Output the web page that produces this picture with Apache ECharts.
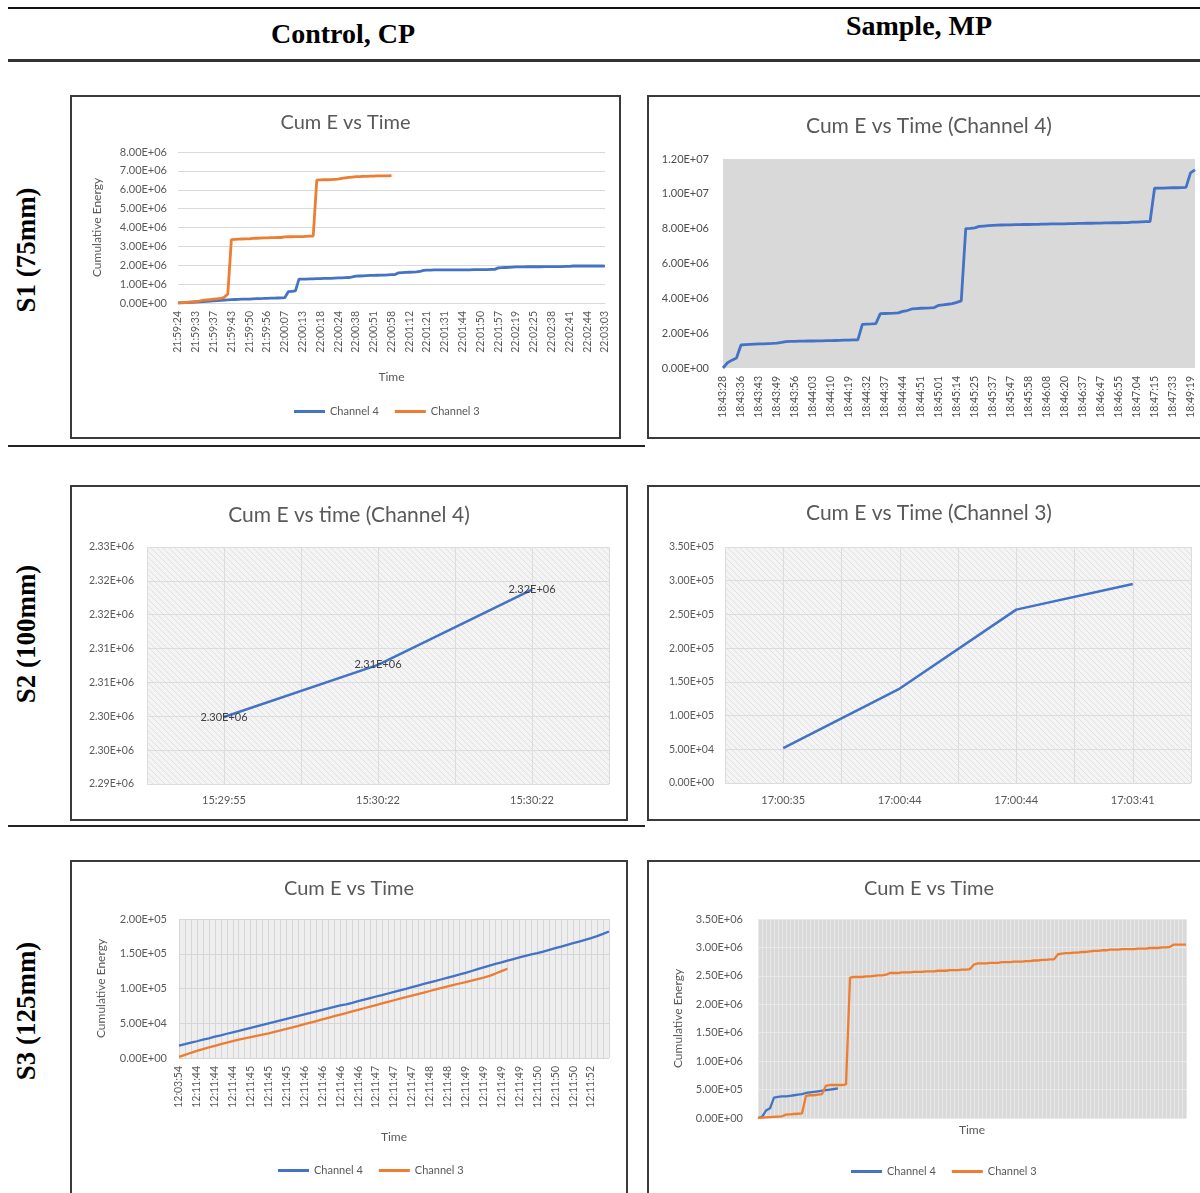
<!DOCTYPE html>
<html><head><meta charset="utf-8">
<script src="https://cdn.jsdelivr.net/npm/echarts@6/dist/echarts.min.js"></script>
<style>
html,body{margin:0;padding:0;width:1200px;height:1193px;overflow:hidden;background:#fff;}
body{position:relative;}
.hl{position:absolute;background:#111;}
.hdr{position:absolute;font-family:"Liberation Serif","DejaVu Serif",serif;font-weight:bold;font-size:28px;color:#000;white-space:nowrap;transform:translateX(-50%);line-height:32px;}
.row{position:absolute;font-family:"Liberation Serif","DejaVu Serif",serif;font-weight:bold;font-size:27px;color:#000;white-space:nowrap;transform:translate(-50%,-50%) rotate(-90deg);line-height:30px;}
.chart{position:absolute;}
.box{position:absolute;border:2px solid #3a3a3a;box-sizing:border-box;pointer-events:none;z-index:5;}
</style></head>
<body>
<div class="hl" style="left:8px;top:7px;width:1192px;height:2px;"></div>
<div class="hl" style="left:8px;top:59px;width:1192px;height:3px;background:#333;"></div>
<div class="hl" style="left:8px;top:445px;width:637px;height:2px;background:#222;"></div>
<div class="hl" style="left:8px;top:825px;width:637px;height:2px;background:#222;"></div>
<div class="hdr" style="left:343px;top:18px;">Control, CP</div>
<div class="hdr" style="left:919px;top:10px;">Sample, MP</div>
<div class="row" style="left:26px;top:250px;">S1 (75mm)</div>
<div class="row" style="left:26px;top:634px;">S2 (100mm)</div>
<div class="row" style="left:26px;top:1011px;">S3 (125mm)</div>

<div id="c1" class="chart" style="left:70px;top:95px;width:551px;height:344px;"></div>
<div class="box" style="left:70px;top:95px;width:551px;height:344px;"></div>
<div id="c2" class="chart" style="left:647px;top:95px;width:564px;height:344px;"></div>
<div class="box" style="left:647px;top:95px;width:564px;height:344px;"></div>
<div id="c3" class="chart" style="left:70px;top:485px;width:558px;height:336px;"></div>
<div class="box" style="left:70px;top:485px;width:558px;height:336px;"></div>
<div id="c4" class="chart" style="left:647px;top:485px;width:564px;height:336px;"></div>
<div class="box" style="left:647px;top:485px;width:564px;height:336px;"></div>
<div id="c5" class="chart" style="left:70px;top:860px;width:558px;height:340px;"></div>
<div class="box" style="left:70px;top:860px;width:558px;height:340px;"></div>
<div id="c6" class="chart" style="left:647px;top:860px;width:564px;height:340px;"></div>
<div class="box" style="left:647px;top:860px;width:564px;height:340px;"></div>

<script>
// ================= DATA =================
// S1 Control (CP): tick labels shown every 5th reading
const c1TimeLabels = ['21:59:24','21:59:33','21:59:37','21:59:43','21:59:50','21:59:56','22:00:07','22:00:13','22:00:18','22:00:24','22:00:38','22:00:51','22:00:58','22:01:12','22:01:21','22:01:31','22:01:44','22:01:50','22:01:57','22:02:19','22:02:25','22:02:38','22:02:41','22:02:44','22:03:03'];
const c1Ch4 = [
 0,0.01e6,0.02e6,0.03e6,0.04e6,0.05e6,0.065e6,0.08e6,0.09e6,0.105e6,
 0.12e6,0.13e6,0.14e6,0.15e6,0.165e6,0.18e6,0.185e6,0.19e6,0.2e6,0.205e6,
 0.21e6,0.22e6,0.23e6,0.235e6,0.24e6,0.25e6,0.255e6,0.26e6,0.265e6,0.27e6,
 0.28e6,0.6e6,0.62e6,0.64e6,1.26e6,1.27e6,1.27e6,1.28e6,1.28e6,1.29e6,
 1.29e6,1.3e6,1.3e6,1.31e6,1.32e6,1.33e6,1.33e6,1.34e6,1.35e6,1.38e6,
 1.42e6,1.43e6,1.44e6,1.45e6,1.46e6,1.46e6,1.47e6,1.48e6,1.48e6,1.49e6,
 1.5e6,1.51e6,1.6e6,1.61e6,1.62e6,1.63e6,1.64e6,1.65e6,1.67e6,1.73e6,
 1.74e6,1.74e6,1.75e6,1.75e6,1.75e6,1.75e6,1.75e6,1.75e6,1.76e6,1.76e6,
 1.76e6,1.76e6,1.76e6,1.77e6,1.77e6,1.77e6,1.77e6,1.77e6,1.78e6,1.78e6,
 1.86e6,1.87e6,1.88e6,1.89e6,1.9e6,1.91e6,1.91e6,1.91e6,1.92e6,1.92e6,
 1.92e6,1.92e6,1.92e6,1.93e6,1.93e6,1.93e6,1.93e6,1.93e6,1.93e6,1.94e6,
 1.94e6,1.96e6,1.96e6,1.96e6,1.96e6,1.96e6,1.96e6,1.96e6,1.96e6,1.96e6,
 1.95e6];
const c1Ch3 = [
 0,0.01e6,0.02e6,0.04e6,0.06e6,0.08e6,0.1e6,0.14e6,0.16e6,0.18e6,
 0.2e6,0.22e6,0.24e6,0.3e6,0.48e6,3.36e6,3.37e6,3.38e6,3.39e6,3.4e6,
 3.4e6,3.42e6,3.43e6,3.44e6,3.45e6,3.45e6,3.46e6,3.46e6,3.47e6,3.47e6,
 3.5e6,3.51e6,3.51e6,3.52e6,3.52e6,3.52e6,3.53e6,3.54e6,3.55e6,6.51e6,
 6.52e6,6.53e6,6.53e6,6.54e6,6.55e6,6.56e6,6.6e6,6.63e6,6.65e6,6.67e6,
 6.69e6,6.7e6,6.71e6,6.71e6,6.72e6,6.72e6,6.73e6,6.73e6,6.74e6,6.74e6,
 6.75e6];
const c1YTicks = ['0.00E+00','1.00E+06','2.00E+06','3.00E+06','4.00E+06','5.00E+06','6.00E+06','7.00E+06','8.00E+06'];

// S1 Sample (MP), channel 4: tick labels shown every 4th reading
const c2TimeLabels = ['18:43:28','18:43:36','18:43:43','18:43:49','18:43:56','18:44:03','18:44:10','18:44:19','18:44:32','18:44:37','18:44:44','18:44:51','18:45:01','18:45:14','18:45:25','18:45:37','18:45:47','18:45:58','18:46:08','18:46:20','18:46:37','18:46:47','18:46:55','18:47:04','18:47:15','18:47:33','18:49:19'];
const c2Ch4 = [
 0,0.3e6,0.45e6,0.57e6,1.32e6,1.34e6,1.36e6,1.37e6,1.38e6,1.39e6,
 1.4e6,1.41e6,1.43e6,1.47e6,1.52e6,1.53e6,1.53e6,1.54e6,1.54e6,1.55e6,
 1.55e6,1.56e6,1.56e6,1.57e6,1.57e6,1.58e6,1.59e6,1.6e6,1.6e6,1.61e6,
 1.62e6,2.51e6,2.52e6,2.53e6,2.55e6,3.12e6,3.13e6,3.14e6,3.15e6,3.17e6,
 3.25e6,3.3e6,3.39e6,3.41e6,3.43e6,3.44e6,3.45e6,3.47e6,3.6e6,3.63e6,
 3.66e6,3.7e6,3.77e6,3.85e6,8.0e6,8.02e6,8.05e6,8.13e6,8.15e6,8.17e6,
 8.19e6,8.2e6,8.21e6,8.22e6,8.22e6,8.23e6,8.23e6,8.24e6,8.24e6,8.25e6,
 8.25e6,8.26e6,8.26e6,8.27e6,8.27e6,8.28e6,8.28e6,8.29e6,8.29e6,8.3e6,
 8.3e6,8.31e6,8.31e6,8.32e6,8.32e6,8.33e6,8.33e6,8.34e6,8.34e6,8.35e6,
 8.35e6,8.37e6,8.38e6,8.39e6,8.4e6,8.41e6,10.32e6,10.33e6,10.33e6,10.34e6,
 10.35e6,10.35e6,10.36e6,10.37e6,11.2e6,11.38e6];
const c2YTicks = ['0.00E+00','2.00E+06','4.00E+06','6.00E+06','8.00E+06','1.00E+07','1.20E+07'];

// S2 Control (CP), channel 4
const c3Times = ['15:29:55','15:30:22','15:30:22'];
const c3Ch4 = [2304900, 2312600, 2323700];
const c3YTicks = ['2.29E+06','2.30E+06','2.30E+06','2.31E+06','2.31E+06','2.32E+06','2.32E+06','2.33E+06'];

// S2 Sample (MP), channel 3
const c4Times = ['17:00:35','17:00:44','17:00:44','17:03:41'];
const c4Ch3 = [51600, 140100, 257100, 295000];
const c4YTicks = ['0.00E+00','5.00E+04','1.00E+05','1.50E+05','2.00E+05','2.50E+05','3.00E+05','3.50E+05'];

// S3 Control (CP): tick labels shown every 3rd reading
const c5TimeLabels = ['12:03:54','12:11:44','12:11:44','12:11:44','12:11:45','12:11:45','12:11:45','12:11:46','12:11:46','12:11:46','12:11:46','12:11:47','12:11:47','12:11:47','12:11:48','12:11:48','12:11:49','12:11:49','12:11:49','12:11:49','12:11:50','12:11:50','12:11:50','12:11:52'];
const c5Ch4 = [
 17800,19800,22000,24100,26300,28400,30600,32700,34900,37000,
 39100,41300,43400,45600,47800,49900,52000,54200,56400,58500,
 60600,62800,64900,67100,69200,71400,73500,75600,77200,79400,
 81700,84000,86300,88500,90600,92800,95000,97300,99600,101900,
 104200,106500,108800,111000,113300,115600,117900,120200,122600,125200,
 127800,130400,132900,135300,137600,140000,142400,144800,147000,149000,
 150800,153200,155600,158000,160400,162800,165200,167600,170000,172400,
 175300,178600,182000];
const c5Ch3 = [
 1500,4500,7500,10300,12800,15200,17600,19900,22200,24300,
 26300,28200,30000,31800,33600,35500,37500,39600,41800,44000,
 46300,48600,50900,53200,55500,57800,60100,62400,64700,67000,
 69300,71600,73900,76200,78500,80800,83100,85400,87600,89800,
 92000,94200,96400,98600,100800,103000,105100,107200,109300,111400,
 113600,115800,118200,121500,125000,128500];
const c5YTicks = ['0.00E+00','5.00E+04','1.00E+05','1.50E+05','2.00E+05'];

// S3 Sample (MP)
const c6Ch4 = [0,0.02e6,0.13e6,0.17e6,0.36e6,0.37e6,0.38e6,0.38e6,0.39e6,0.4e6,0.41e6,0.42e6,0.44e6,0.45e6,0.46e6,0.47e6,0.48e6,0.49e6,0.5e6,0.51e6,0.52e6];
const c6Ch3 = [
 0,0.005e6,0.01e6,0.015e6,0.02e6,0.025e6,0.03e6,0.06e6,0.065e6,0.07e6,
 0.075e6,0.08e6,0.39e6,0.4e6,0.4e6,0.41e6,0.42e6,0.57e6,0.58e6,0.58e6,
 0.58e6,0.58e6,0.59e6,2.47e6,2.48e6,2.48e6,2.48e6,2.49e6,2.49e6,2.5e6,
 2.51e6,2.51e6,2.52e6,2.55e6,2.55e6,2.55e6,2.56e6,2.56e6,2.56e6,2.57e6,
 2.57e6,2.57e6,2.58e6,2.58e6,2.58e6,2.59e6,2.59e6,2.59e6,2.6e6,2.6e6,
 2.6e6,2.61e6,2.61e6,2.62e6,2.7e6,2.72e6,2.72e6,2.72e6,2.73e6,2.73e6,
 2.73e6,2.74e6,2.74e6,2.74e6,2.75e6,2.75e6,2.75e6,2.76e6,2.76e6,2.77e6,
 2.77e6,2.78e6,2.78e6,2.79e6,2.79e6,2.88e6,2.89e6,2.9e6,2.9e6,2.91e6,
 2.91e6,2.92e6,2.92e6,2.93e6,2.94e6,2.94e6,2.95e6,2.95e6,2.96e6,2.96e6,
 2.96e6,2.97e6,2.97e6,2.97e6,2.97e6,2.98e6,2.98e6,2.98e6,2.99e6,2.99e6,
 2.99e6,3.0e6,3.0e6,3.01e6,3.05e6,3.05e6,3.05e6,3.05e6];
const c6YTicks = ['0.00E+00','5.00E+05','1.00E+06','1.50E+06','2.00E+06','2.50E+06','3.00E+06','3.50E+06'];

// ================= STYLE / HELPERS =================
const FONT = 'Lato, "Liberation Sans", sans-serif';
const TXT = '#595959';
const BLUE = '#4472C4';
const ORANGE = '#ED7D31';

// category list: each tick label followed by unlabeled readings
function spread(labels, step, extra) {
  const out = [];
  labels.forEach((l, i) => {
    out.push(l);
    if (i < labels.length - 1) for (let k = 1; k < step; k++) out.push('');
  });
  for (let k = 0; k < extra; k++) out.push('');
  return out;
}
function tickFmt(labels, min, step) {
  return v => { const i = Math.round((v - min) / step); return labels[i] !== undefined ? labels[i] : ''; };
}
function fmtE(v) {
  return v.toExponential(2).toUpperCase().replace(/E([+-])(\d)$/, 'E$10$2');
}
function hatch() {
  const c = document.createElement('canvas'); c.width = 6; c.height = 6;
  const g = c.getContext('2d');
  g.fillStyle = '#F4F4F4'; g.fillRect(0, 0, 6, 6);
  g.strokeStyle = '#E0E0E0'; g.lineWidth = 1;
  g.beginPath();
  g.moveTo(0, 0); g.lineTo(6, 6);
  g.moveTo(-3, 3); g.lineTo(3, 9);
  g.moveTo(3, -3); g.lineTo(9, 3);
  g.stroke();
  return c;
}
const titleStyle = (size) => ({ fontFamily: FONT, fontSize: size, fontWeight: 'normal', color: TXT });
const nameStyle = { fontFamily: FONT, fontSize: 12, color: TXT };
const legendOpt = (left, top) => ({
  data: ['Channel 4', 'Channel 3'], left: left, top: top, icon: 'rect',
  itemWidth: 31, itemHeight: 3, itemGap: 16,
  textStyle: { fontFamily: FONT, fontSize: 11, color: TXT }
});
const lineSeries = (name, data, color, width) => ({
  name: name, type: 'line', data: data, symbol: 'none', showSymbol: false,
  lineStyle: { width: width, color: color }, itemStyle: { color: color }, z: 3
});
const labelsOnly = (i, v) => v !== '';

function mk(id, opt) {
  const ch = echarts.init(document.getElementById(id), null, { renderer: 'canvas' });
  opt.animation = false;
  ch.setOption(opt);
}

// ---------- Chart 1 ----------
const c1Cats = spread(c1TimeLabels, 5, 0);
mk('c1', {
  title: { text: 'Cum E vs Time', left: 'center', top: 13, textStyle: titleStyle(20) },
  legend: legendOpt(219, 306),
  grid: { left: 108, right: 16, top: 57, bottom: 136 },
  xAxis: {
    type: 'category', data: c1Cats, boundaryGap: false,
    name: 'Time', nameLocation: 'middle', nameGap: 68, nameTextStyle: nameStyle,
    axisLine: { show: true, lineStyle: { color: '#D9D9D9' } }, axisTick: { show: false },
    axisLabel: { rotate: 90, interval: labelsOnly, fontFamily: FONT, fontSize: 10.5, color: TXT, margin: 8 }
  },
  yAxis: {
    type: 'value', min: 0, max: 8e6, interval: 1e6,
    name: 'Cumulative Energy', nameLocation: 'middle', nameRotate: 90, nameGap: 75, nameTextStyle: nameStyle,
    axisLabel: { formatter: tickFmt(c1YTicks, 0, 1e6), fontFamily: FONT, fontSize: 11, color: TXT, margin: 11 },
    splitLine: { lineStyle: { color: '#D9D9D9' } }
  },
  series: [lineSeries('Channel 4', c1Ch4, BLUE, 2.8), lineSeries('Channel 3', c1Ch3, ORANGE, 2.8)]
});

// ---------- Chart 2 ----------
const c2Cats = spread(c2TimeLabels, 4, 1);
mk('c2', {
  title: { text: 'Cum E vs Time (Channel 4)', left: 'center', top: 16, textStyle: titleStyle(21) },
  grid: { left: 76, right: 16, top: 64, bottom: 71, show: true, backgroundColor: '#D9D9D9', borderWidth: 0 },
  xAxis: {
    type: 'category', data: c2Cats, boundaryGap: false,
    axisLine: { show: false }, axisTick: { show: false },
    axisLabel: { rotate: 90, interval: labelsOnly, fontFamily: FONT, fontSize: 10.5, color: '#4d4d4d', margin: 8 }
  },
  yAxis: {
    type: 'value', min: 0, max: 1.2e7, interval: 2e6,
    axisLabel: { formatter: tickFmt(c2YTicks, 0, 2e6), fontFamily: FONT, fontSize: 11, color: '#4d4d4d', margin: 14 },
    splitLine: { show: false }
  },
  series: [lineSeries('Channel 4', c2Ch4, BLUE, 2.8)]
});

// ---------- Chart 3 ----------
mk('c3', {
  title: { text: 'Cum E vs time (Channel 4)', left: 'center', top: 15, textStyle: titleStyle(21) },
  grid: { left: 77, right: 19, top: 62, bottom: 37, show: true, backgroundColor: { image: hatch(), repeat: 'repeat' }, borderWidth: 0 },
  xAxis: [{
    type: 'category', data: c3Times, boundaryGap: true,
    axisLine: { show: false }, axisTick: { show: false },
    axisLabel: { fontFamily: FONT, fontSize: 11, color: TXT, margin: 11 }
  }, {
    type: 'category', data: new Array(c3Times.length * 2).fill(''), boundaryGap: true,
    axisLine: { show: false }, axisTick: { show: false }, axisLabel: { show: false },
    splitLine: { show: true, interval: 0, lineStyle: { color: '#DCDCDC' } }
  }],
  yAxis: {
    type: 'value', min: 2295000, max: 2330000, interval: 5000,
    axisLabel: { formatter: tickFmt(c3YTicks, 2295000, 5000), fontFamily: FONT, fontSize: 10.5, color: TXT, margin: 13 },
    splitLine: { lineStyle: { color: '#DCDCDC' } }
  },
  series: [{
    name: 'Channel 4', type: 'line', data: c3Ch4, symbol: 'circle', symbolSize: 1, showSymbol: true,
    lineStyle: { width: 2.5, color: BLUE }, itemStyle: { color: BLUE },
    label: { show: true, position: 'inside', formatter: p => fmtE(p.value), fontFamily: FONT, fontSize: 11, color: '#404040' }
  }]
});

// ---------- Chart 4 ----------
mk('c4', {
  title: { text: 'Cum E vs Time (Channel 3)', left: 'center', top: 13, textStyle: titleStyle(21) },
  grid: { left: 78, right: 20, top: 62, bottom: 38, show: true, backgroundColor: { image: hatch(), repeat: 'repeat' }, borderWidth: 0 },
  xAxis: [{
    type: 'category', data: c4Times, boundaryGap: true,
    axisLine: { show: false }, axisTick: { show: false },
    axisLabel: { fontFamily: FONT, fontSize: 11, color: TXT, margin: 12 }
  }, {
    type: 'category', data: new Array(c4Times.length * 2).fill(''), boundaryGap: true,
    axisLine: { show: false }, axisTick: { show: false }, axisLabel: { show: false },
    splitLine: { show: true, interval: 0, lineStyle: { color: '#DCDCDC' } }
  }],
  yAxis: {
    type: 'value', min: 0, max: 350000, interval: 50000,
    axisLabel: { formatter: tickFmt(c4YTicks, 0, 50000), fontFamily: FONT, fontSize: 10.5, color: TXT, margin: 11 },
    splitLine: { lineStyle: { color: '#DCDCDC' } }
  },
  series: [lineSeries('Channel 3', c4Ch3, BLUE, 2.5)]
});

// ---------- Chart 5 ----------
const c5Cats = spread(c5TimeLabels, 3, 3);
mk('c5', {
  title: { text: 'Cum E vs Time', left: 'center', top: 14, textStyle: titleStyle(20) },
  legend: legendOpt(203, 300),
  grid: { left: 109, right: 19, top: 59, bottom: 142, show: true, backgroundColor: '#EEEEEE', borderWidth: 0 },
  xAxis: {
    type: 'category', data: c5Cats, boundaryGap: false,
    name: 'Time', nameLocation: 'middle', nameGap: 73, nameTextStyle: nameStyle,
    axisLine: { show: false }, axisTick: { show: false },
    axisLabel: { rotate: 90, interval: labelsOnly, fontFamily: FONT, fontSize: 10.5, color: TXT, margin: 8 },
    splitLine: { show: true, interval: 0, lineStyle: { color: '#D6D6D6' } }
  },
  yAxis: {
    type: 'value', min: 0, max: 200000, interval: 50000,
    name: 'Cumulative Energy', nameLocation: 'middle', nameRotate: 90, nameGap: 72, nameTextStyle: nameStyle,
    axisLabel: { formatter: tickFmt(c5YTicks, 0, 50000), fontFamily: FONT, fontSize: 11, color: TXT, margin: 12 },
    splitLine: { lineStyle: { color: '#D6D6D6' } }
  },
  series: [lineSeries('Channel 4', c5Ch4, BLUE, 2.3), lineSeries('Channel 3', c5Ch3, ORANGE, 2.3)]
});

// ---------- Chart 6 ----------
const c6Cats = new Array(c6Ch3.length).fill('');
mk('c6', {
  title: { text: 'Cum E vs Time', left: 'center', top: 14, textStyle: titleStyle(20) },
  legend: legendOpt(199, 301),
  grid: { left: 111, right: 25, top: 59, bottom: 82, show: true, backgroundColor: '#D9D9D9', borderWidth: 0 },
  xAxis: {
    type: 'category', data: c6Cats, boundaryGap: false,
    name: 'Time', nameLocation: 'middle', nameGap: 6, nameTextStyle: nameStyle,
    axisLine: { show: false }, axisTick: { show: false }, axisLabel: { show: false },
    splitLine: { show: true, interval: 0, lineStyle: { color: '#E8E8E8' } }
  },
  yAxis: {
    type: 'value', min: 0, max: 3500000, interval: 500000,
    name: 'Cumulative Energy', nameLocation: 'middle', nameRotate: 90, nameGap: 74, nameTextStyle: nameStyle,
    axisLabel: { formatter: tickFmt(c6YTicks, 0, 500000), fontFamily: FONT, fontSize: 11, color: TXT, margin: 15 },
    splitLine: { lineStyle: { color: '#E8E8E8' } }
  },
  series: [lineSeries('Channel 4', c6Ch4, BLUE, 2.3), lineSeries('Channel 3', c6Ch3, ORANGE, 2.3)]
});
</script>
</body></html>
